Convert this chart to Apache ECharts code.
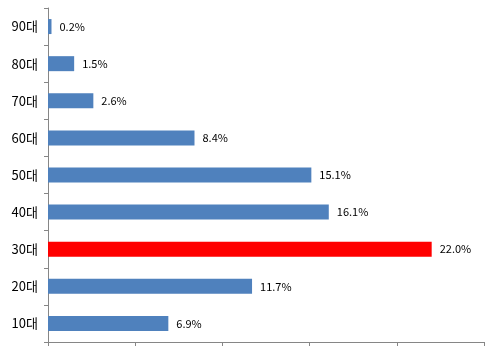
<!DOCTYPE html>
<html>
<head>
<meta charset="utf-8">
<style>
  html, body { margin: 0; padding: 0; background: #fff; }
  #chart { width: 504px; height: 353px; }
</style>
<script src="https://cdn.jsdelivr.net/npm/echarts@6/dist/echarts.min.js"></script>
</head>
<body>
<div id="chart"></div>
<script>
// 연령대별 비율 (아래에서 위로)
const categories = ['10대', '20대', '30대', '40대', '50대', '60대', '70대', '80대', '90대']
const values = [6.9, 11.7, 22.0, 16.1, 15.1, 8.4, 2.6, 1.5, 0.2]
const highlight = '30대'

const chart = echarts.init(document.getElementById('chart'))

chart.setOption({
  animation: false,
  grid: {
    left: 48,
    right: 20,
    top: 8,
    bottom: 11
  },
  xAxis: {
    type: 'value',
    min: 0,
    max: 25,
    interval: 5,
    axisLine: { show: true, lineStyle: { color: '#868686' } },
    axisTick: { show: true, length: 4, lineStyle: { color: '#868686' } },
    axisLabel: { show: false },
    splitLine: { show: false }
  },
  yAxis: {
    type: 'category',
    data: categories,
    axisLine: { show: true, lineStyle: { color: '#868686' } },
    axisTick: { show: true, length: 4, lineStyle: { color: '#868686' } },
    axisLabel: {
      color: '#000',
      fontSize: 13,
      margin: 10,
      fontFamily: '"Noto Sans CJK KR", sans-serif'
    }
  },
  series: [{
    type: 'bar',
    barWidth: 15,
    data: values.map((v, i) => ({
      value: v,
      itemStyle: { color: categories[i] === highlight ? '#ff0000' : '#4f81bd' }
    })),
    label: {
      show: true,
      position: 'right',
      distance: 8,
      color: '#000',
      fontSize: 11,
      fontFamily: '"Noto Sans CJK KR", sans-serif',
      formatter: p => p.value.toFixed(1) + '%'
    }
  }]
})
</script>
</body>
</html>
